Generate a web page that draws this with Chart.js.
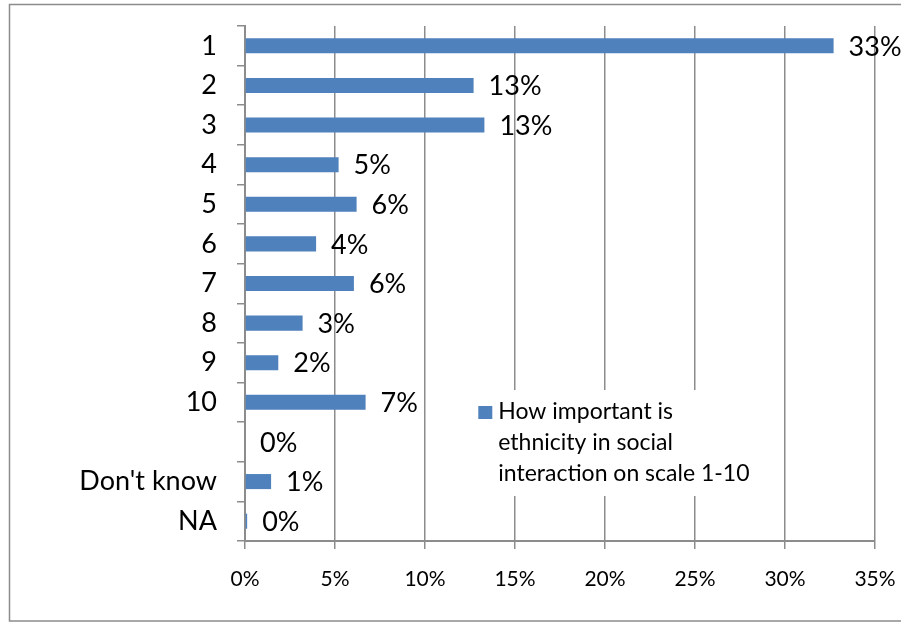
<!DOCTYPE html>
<html lang="en">
  <head>
    <meta charset="UTF-8" />
    <title>Ethnicity in social interaction</title>
    <script src="https://cdn.jsdelivr.net/npm/chart.js"></script>
    <style>
      body {
        margin: 0;
        background-color: #ffffff;
      }
    </style>
  </head>
  <body>
    <canvas id="myChart" width="901" height="622"></canvas>
    <script>
      // categories (one row is blank in the source sheet)
      const categories = ["1", "2", "3", "4", "5", "6", "7", "8", "9", "10", "", "Don't know", "NA"];
      // share of answers, in percent
      const shares = [32.7, 12.7, 13.3, 5.2, 6.2, 3.95, 6.05, 3.2, 1.85, 6.7, 0, 1.45, 0.12];
      const xTicks = [0, 5, 10, 15, 20, 25, 30, 35];
      const legendLines = ["How important is", "ethnicity in social", "interaction on scale 1-10"];

      const barColor = "#4F81BD";
      const gridColor = "#8c8c8c";
      const fontFamily = "Lato, 'Liberation Sans', sans-serif";

      const frame = {
        id: "frame",
        beforeDraw(chart) {
          const c = chart.ctx;
          c.save();
          c.fillStyle = "#ffffff";
          c.fillRect(0, 0, chart.width, chart.height);
          c.strokeStyle = gridColor;
          c.lineWidth = 1.5;
          c.strokeRect(9.5, 4.5, chart.width + 20, chart.height - 5.5);
          c.restore();
        },
      };

      const valueLabels = {
        id: "valueLabels",
        afterDatasetsDraw(chart) {
          const c = chart.ctx;
          const meta = chart.getDatasetMeta(0);
          c.save();
          c.font = "27px " + fontFamily;
          c.fillStyle = "#000000";
          c.textAlign = "left";
          c.textBaseline = "middle";
          meta.data.forEach((bar, i) => {
            c.fillText(Math.round(shares[i]) + "%", bar.x + 15, bar.y + 1);
          });
          c.restore();
        },
      };

      const boxLegend = {
        id: "boxLegend",
        afterDraw(chart) {
          const c = chart.ctx;
          const x = chart.scales.x.getPixelForValue(12.85);
          const y = 390;
          c.save();
          c.fillStyle = "#ffffff";
          c.fillRect(x, y, 276, 106);
          c.fillStyle = barColor;
          c.fillRect(x + 2, y + 16, 14, 13);
          c.fillStyle = "#000000";
          c.font = "23px " + fontFamily;
          c.textAlign = "left";
          c.textBaseline = "alphabetic";
          legendLines.forEach((line, i) => {
            c.fillText(line, x + 22, y + 29 + i * 31);
          });
          c.restore();
        },
      };

      const ctx = document.getElementById("myChart").getContext("2d");
      const myChart = new Chart(ctx, {
        type: "bar",
        data: {
          labels: categories,
          datasets: [
            {
              label: legendLines.join(" "),
              data: shares,
              backgroundColor: barColor,
              barPercentage: 0.38,
              categoryPercentage: 1,
            },
          ],
        },
        options: {
          indexAxis: "y",
          responsive: false,
          animation: false,
          devicePixelRatio: 1,
          layout: {
            padding: { top: 26, right: 26, bottom: 0, left: 0 },
          },
          plugins: {
            legend: { display: false },
            tooltip: { enabled: false },
          },
          scales: {
            x: {
              min: 0,
              max: 35,
              afterBuildTicks: (scale) => {
                scale.ticks = xTicks.map((v) => ({ value: v }));
              },
              afterFit: (scale) => {
                scale.height = 81;
                scale.paddingLeft = 0;
                scale.paddingRight = 0;
              },
              grid: {
                color: gridColor,
                lineWidth: 1.5,
                tickLength: 8,
              },
              border: { color: gridColor, width: 2 },
              ticks: {
                color: "#000000",
                padding: 18,
                font: { family: fontFamily, size: 21 },
                callback: (v) => v + "%",
              },
            },
            y: {
              afterFit: (scale) => {
                scale.width = 245;
                scale.paddingTop = 0;
                scale.paddingBottom = 0;
              },
              grid: {
                drawOnChartArea: false,
                offset: true,
                color: gridColor,
                lineWidth: 1.5,
                tickLength: 8,
              },
              border: { color: gridColor, width: 2 },
              ticks: {
                color: "#000000",
                padding: 20,
                font: { family: fontFamily, size: 27 },
              },
            },
          },
        },
        plugins: [frame, valueLabels, boxLegend],
      });
    </script>
  </body>
</html>
